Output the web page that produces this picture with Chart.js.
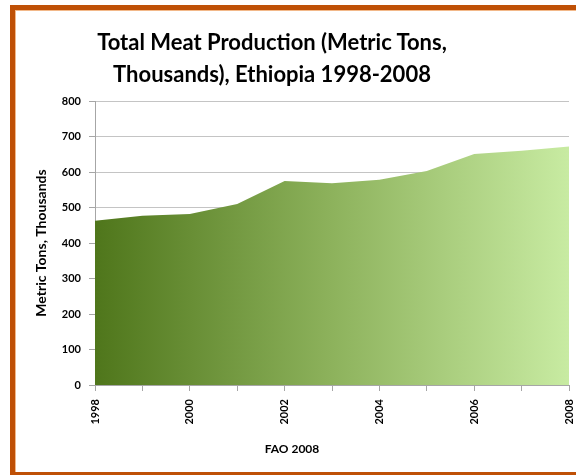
<!DOCTYPE html>
<html>
<head>
<meta charset="utf-8">
<script src="https://cdn.jsdelivr.net/npm/chart.js@4.4.1/dist/chart.umd.min.js"></script>
<style>
  html, body { margin: 0; padding: 0; background: #fff; }
  #wrap { position: relative; width: 576px; height: 475px; overflow: hidden; }
  #frame {
    position: absolute; left: 10px; top: 5px; width: 600px; height: 462px;
    border-left: 5px solid #bf5006; border-top: 5px solid #bf5006; border-bottom: 3px solid #bf5006;
    box-shadow: inset 1px 1px 0 #f2b889;
  }
  #title {
    position: absolute; left: 72px; width: 400px; top: 26px;
    text-align: center; font-family: Lato, sans-serif; font-weight: bold;
    font-size: 22px; line-height: 32px; color: #000;
  }
  #source {
    position: absolute; left: 192px; width: 200px; top: 441px;
    text-align: center; font-family: Lato, sans-serif; font-weight: bold;
    font-size: 12px; color: #000;
  }
  canvas { position: absolute; left: 0; top: 0; }
</style>
</head>
<body>
<div id="wrap">
  <div id="frame"></div>
  <canvas id="chart" width="576" height="475"></canvas>
  <div id="title">Total Meat Production (Metric Tons,<br>Thousands), Ethiopia 1998-2008</div>
  <div id="source">FAO 2008</div>
</div>
<script>
// Annual meat production, thousands of metric tons
const years = ['1998', '1999', '2000', '2001', '2002', '2003', '2004', '2005', '2006', '2007', '2008'];
const production = [463, 477, 482, 510, 575, 568, 578, 603, 651, 660, 672];
const labeledYears = ['1998', '2000', '2002', '2004', '2006', '2008'];

const tickFont = { family: 'Lato, sans-serif', size: 11, weight: 'bold' };
const axisGray = '#a6a6a6';

function greenGradient(context) {
  const area = context.chart.chartArea;
  if (!area) return '#7fa64a';
  const g = context.chart.ctx.createLinearGradient(area.left, 0, area.right, 0);
  g.addColorStop(0, '#4f761b');
  g.addColorStop(0.5, '#8db25c');
  g.addColorStop(1, '#c8eba2');
  return g;
}

new Chart(document.getElementById('chart'), {
  type: 'line',
  data: {
    labels: years,
    datasets: [{
      data: production,
      fill: 'origin',
      backgroundColor: greenGradient,
      borderWidth: 0,
      pointRadius: 0,
      tension: 0
    }]
  },
  options: {
    responsive: false,
    animation: false,
    layout: { padding: { left: 15, top: 101, right: 7, bottom: 10 } },
    plugins: { legend: { display: false }, tooltip: { enabled: false }, title: { display: false } },
    scales: {
      x: {
        type: 'category',
        offset: false,
        afterFit: (scale) => {
          scale.height = 80;
          scale.paddingLeft = 0;
          scale.paddingRight = 0;
        },
        grid: { drawOnChartArea: false, drawTicks: true, tickLength: 6, color: axisGray },
        border: { color: axisGray },
        ticks: {
          autoSkip: false, minRotation: 90, maxRotation: 90, padding: 8,
          color: '#000', font: tickFont,
          callback: function (value) {
            const lbl = this.getLabelForValue(value);
            return labeledYears.includes(lbl) ? lbl : '';
          }
        }
      },
      y: {
        min: 0, max: 800,
        afterFit: (scale) => {
          scale.width = 80;
          scale.paddingTop = 0;
          scale.paddingBottom = 0;
        },
        grid: { color: '#c4c4c4', tickLength: 6, tickColor: axisGray },
        border: { color: axisGray },
        ticks: { stepSize: 100, padding: 8, color: '#000', font: tickFont },
        title: {
          display: true, text: 'Metric Tons, Thousands', color: '#000',
          font: { family: 'Lato, sans-serif', size: 14, weight: 'bold' },
          padding: { top: 18, bottom: 0 }
        }
      }
    }
  }
});
</script>
</body>
</html>
